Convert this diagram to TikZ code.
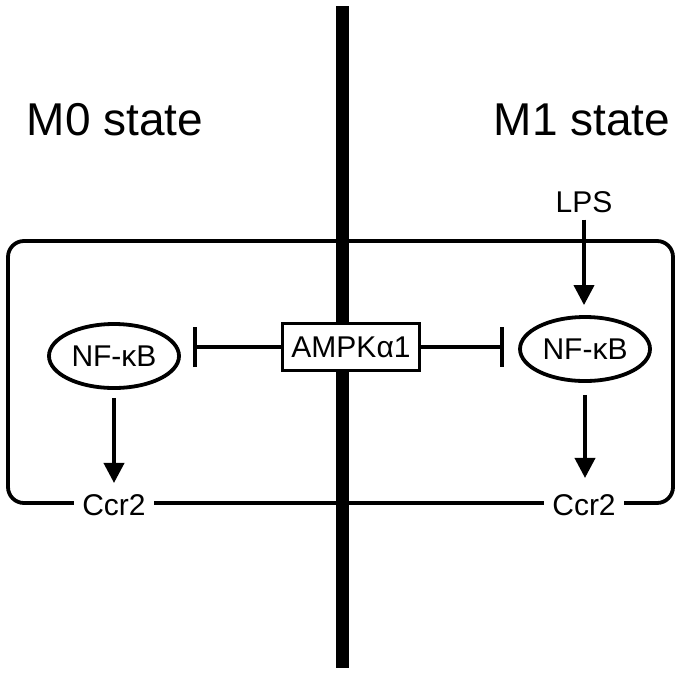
\documentclass[tikz,border=0pt]{standalone}
\usepackage{fontspec}
\setmainfont{Liberation Sans}
\usetikzlibrary{arrows.meta,shapes.geometric}

\begin{document}
\begin{tikzpicture}[x=0.5pt,y=-0.5pt,
    gene/.style={ellipse,draw,line width=1.9pt,minimum width=65pt,minimum height=32pt,
      inner sep=0pt,font=\fontsize{15}{18}\selectfont},
    kinase/.style={rectangle,draw,fill=white,line width=1.9pt,minimum width=68.5pt,
      minimum height=23.5pt,inner sep=0pt,font=\fontsize{15}{18}\selectfont},
    txt/.style={font=\fontsize{15}{18}\selectfont},
    target/.style={txt,fill=white,inner xsep=4pt,inner ysep=2pt},
    state/.style={font=\fontsize{23}{28}\selectfont},
    act/.style={line width=1.9pt,-{Triangle[length=10pt,width=10pt]}},
    inh/.style={line width=1.9pt,-{Bar[width=20pt]}}]
  \useasboundingbox (0,0) rectangle (683,675);
  % cell membrane
  \draw[line width=1.9pt,rounded corners=8pt] (8,241) rectangle (673,503);
  \node[state] (m0) at (115,120) {M0 state};
  \node[state] (m1) at (582,120) {M1 state};
  \node[target] (ccr0) at (114,505) {Ccr2};
  \node[target] (ccr1) at (584,505) {Ccr2};
  % dividing bar
  \coordinate (top) at (342,6);
  \coordinate (bot) at (342,668);
  \draw[line width=6.5pt] (top) -- (bot);
  \node[kinase] (ampk) at (351,347) {AMPKα1};
  \node[gene] (nf0) at (114,356) {NF-κB};
  \node[gene] (nf1) at (585,349) {NF-κB};
  \node[txt] (lps) at (584,202) {LPS};
  \draw[inh,shorten >=6pt] (ampk.west) -- (ampk.west -| nf0.east);
  \draw[inh,shorten >=7pt] (ampk.east) -- (ampk.east -| nf1.west);
  \draw[act,shorten <=4pt,shorten >=3.5pt] (nf0.south) -- (nf0.south |- ccr0.north);
  \draw[act,shorten <=6pt,shorten >=6pt] (nf1.south) -- (nf1.south |- ccr1.north);
  \draw[act,shorten >=5pt] (lps.south) -- (lps.south |- nf1.north);
\end{tikzpicture}
\end{document}
